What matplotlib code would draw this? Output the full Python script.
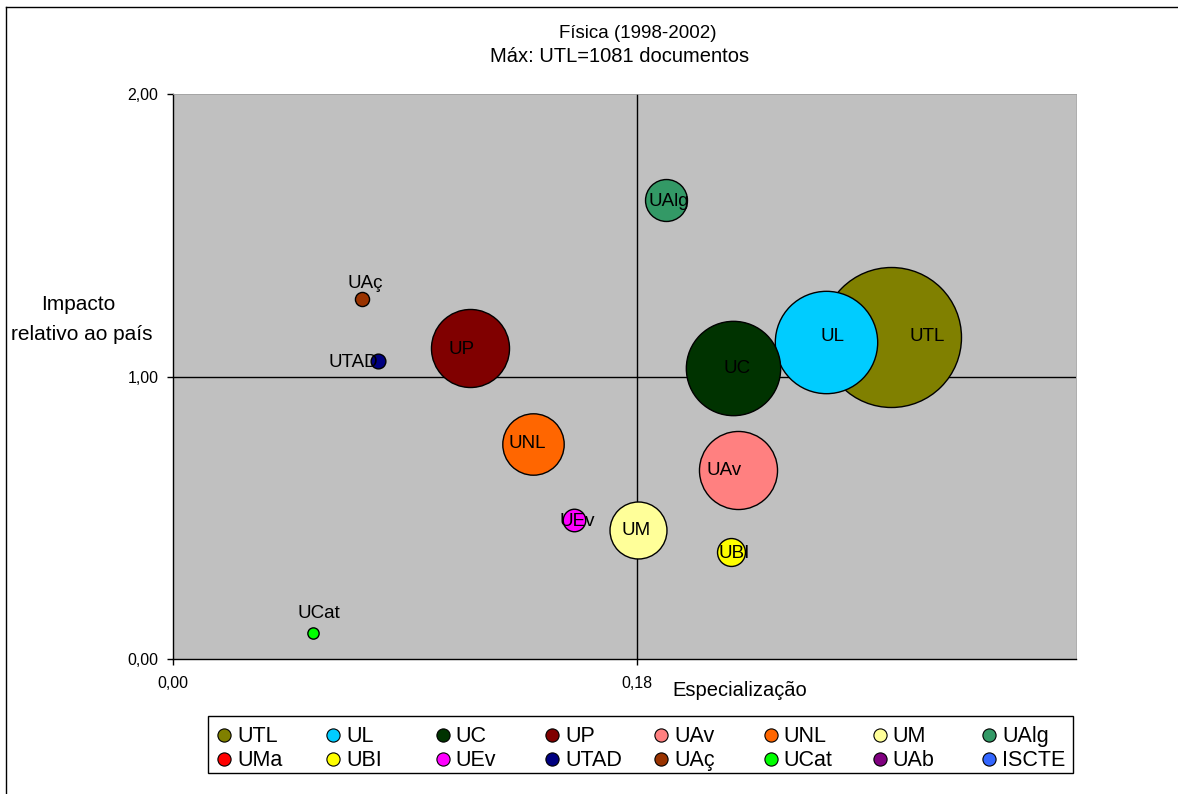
import matplotlib
matplotlib.use("Agg")
import matplotlib.pyplot as plt
from matplotlib.lines import Line2D
from matplotlib.patches import Rectangle
import numpy as np

plt.rcParams['font.family'] = ['Liberation Sans', 'DejaVu Sans']

# ---------------- data ----------------
names = ["UTL", "UL", "UC", "UP", "UAv", "UNL", "UM", "UAlg",
         "UMa", "UBI", "UEv", "UTAD", "UAç", "UCat", "UAb", "ISCTE"]
especializacao = [0.2785, 0.2533, 0.2170, 0.1151, 0.2192, 0.1396, 0.1804, 0.1910,
                  np.nan, 0.2163, 0.1554, 0.0798, 0.0735, 0.0545, np.nan, np.nan]
impacto = [1.141, 1.122, 1.031, 1.101, 0.670, 0.763, 0.4585, 1.625,
           np.nan, 0.378, 0.493, 1.054, 1.273, 0.092, np.nan, np.nan]
documentos = [1081, 578, 491, 336, 336, 208, 179, 97,
              np.nan, 43, 28, 12, 11, 7, np.nan, np.nan]
colors = ["#808000", "#00CCFF", "#003300", "#800000", "#FF8080", "#FF6600", "#FFFF99", "#339966",
          "#FF0000", "#FFFF00", "#FF00FF", "#000080", "#993300", "#00FF00", "#800080", "#3366FF"]
x_ticks = [0.0, 0.18]
x_ticklabels = ["0,00", "0,18"]
y_ticks = [0.0, 1.0, 2.0]
y_ticklabels = ["0,00", "1,00", "2,00"]
title_lines = ["Física (1998-2002)", "Máx: UTL=1081 documentos"]

# label offsets (pixels, right / up) relative to bubble centres
label_offsets = {"UTL": (36, 0), "UL": (6, 6), "UC": (4, -1), "UP": (-8, -1),
                 "UAv": (-14, -1), "UNL": (-6, 0), "UM": (-2, -1), "UAlg": (3, -2),
                 "UBI": (3, -1), "UEv": (4, -2), "UTAD": (-25, -1), "UAç": (3, 16),
                 "UCat": (6, 20)}

W, H = 1178, 794
fig = plt.figure(figsize=(W / 100, H / 100), dpi=100)
fig.patch.set_facecolor("white")

ax_l, ax_r, ax_t, ax_b = 172.5, 1076, 94, 659.3
ax = fig.add_axes([ax_l / W, 1 - ax_b / H, (ax_r - ax_l) / W, (ax_b - ax_t) / H])
ax.set_facecolor("#C0C0C0")
ax.set_xlim(0, 0.35)
ax.set_ylim(0, 2.0)

# cross lines
ax.axhline(1.0, color="black", lw=1.0, zorder=1)
ax.axvline(0.18, color="black", lw=1.0, zorder=1)

# bubble scaling: area proportional to documents, UTL radius 70px
max_docs = 1081
max_diam_pt = 2 * 70 * 0.72
for i, n in enumerate(names):
    if np.isnan(documentos[i]):
        continue
    s = documentos[i] / max_docs * max_diam_pt ** 2
    ax.scatter([especializacao[i]], [impacto[i]], s=s, c=colors[i],
               edgecolors="black", linewidths=1.0, zorder=2 + i * 0.01)
for i, n in enumerate(names):
    if np.isnan(documentos[i]):
        continue
    dx, dy = label_offsets.get(n, (0, 0))
    ax.annotate(n, (especializacao[i], impacto[i]), xytext=(dx, dy),
                textcoords="offset pixels", ha="center", va="center",
                fontsize=13.5, color="black", zorder=5)

ax.set_xticks(x_ticks)
ax.set_xticklabels(x_ticklabels)
ax.set_yticks(y_ticks)
ax.set_yticklabels(y_ticklabels)
ax.tick_params(axis="both", direction="out", length=4, width=1, labelsize=11.5,
               color="black")
ax.tick_params(axis="x", pad=8)
ax.tick_params(axis="y", pad=6)
for side in ["left", "bottom"]:
    ax.spines[side].set_color("black")
    ax.spines[side].set_linewidth(1.0)
for side in ["top", "right"]:
    ax.spines[side].set_color("#A0A0A0")
    ax.spines[side].set_linewidth(0.6)

# titles and axis labels
fig.text(638 / W, 1 - 33 / H, title_lines[0], ha="center", va="center", fontsize=13.5)
fig.text(620 / W, 1 - 57 / H, title_lines[1], ha="center", va="center", fontsize=14.5)
fig.text(740 / W, 1 - 691 / H, "Especialização", ha="center", va="center", fontsize=14.5)
fig.text(78 / W, 1 - 304 / H, "Impacto", ha="center", va="center", fontsize=15)
fig.text(82 / W, 1 - 334 / H, "relativo ao país", ha="center", va="center", fontsize=15)

# legend (Excel-like uniform grid, row-wise order)
leg_l, leg_r, leg_t, leg_b = 208, 1073, 716, 773
fig.add_artist(Rectangle((leg_l / W, 1 - leg_b / H), (leg_r - leg_l) / W, (leg_b - leg_t) / H,
                         transform=fig.transFigure, facecolor="white", edgecolor="black",
                         lw=1.0, zorder=3))
ncol = 8
col_x0, col_dx = 224, 109.3
row_y = [735, 759]
for i, (n, c) in enumerate(zip(names, colors)):
    r, k = divmod(i, ncol)
    mx = col_x0 + k * col_dx
    my = row_y[r]
    fig.add_artist(Line2D([mx / W], [1 - my / H], transform=fig.transFigure, marker="o",
                          linestyle="none", markersize=9.5, markerfacecolor=c,
                          markeredgecolor="black", markeredgewidth=0.8, zorder=4))
    fig.text((mx + 13) / W, 1 - (my + 1.5) / H, n, ha="left", va="center",
             fontsize=15.5, zorder=4)

# outer chart border (left and top visible)
fig.add_artist(Line2D([6 / W, 6 / W], [0, 1 - 7 / H], transform=fig.transFigure,
                      color="black", lw=1.0))
fig.add_artist(Line2D([6 / W, 1], [1 - 7 / H, 1 - 7 / H], transform=fig.transFigure,
                      color="black", lw=1.0))

fig.savefig("out.png", dpi=100)
